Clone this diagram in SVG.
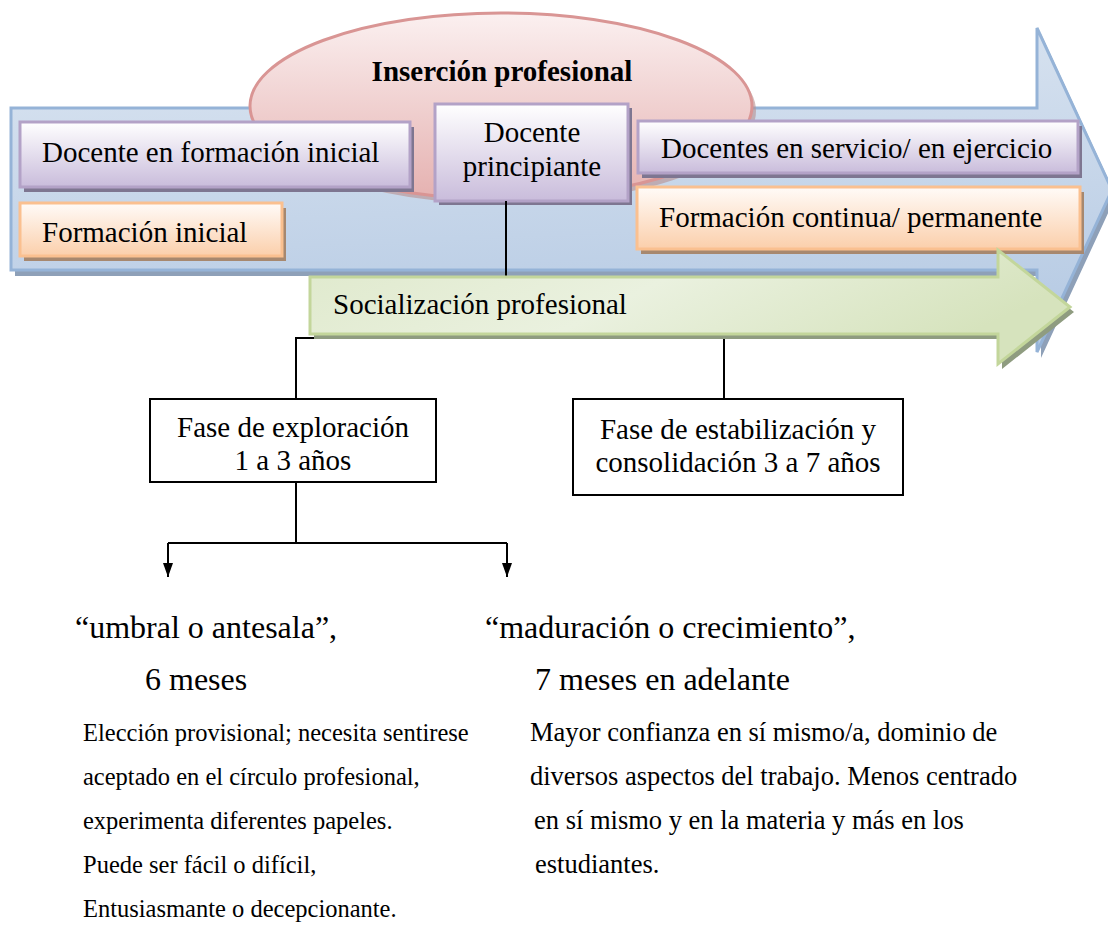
<svg xmlns="http://www.w3.org/2000/svg" width="1108" height="929" viewBox="0 0 1108 929">
<defs>
  <linearGradient id="gBlue" x1="0" y1="0" x2="0.15" y2="1">
    <stop offset="0" stop-color="#dbe5f1"/>
    <stop offset="1" stop-color="#b7cbe4"/>
  </linearGradient>
  <linearGradient id="gPurple" x1="0" y1="0" x2="0" y2="1">
    <stop offset="0" stop-color="#ffffff"/>
    <stop offset="1" stop-color="#c9bcdb"/>
  </linearGradient>
  <linearGradient id="gOrange" x1="0" y1="0" x2="0" y2="1">
    <stop offset="0" stop-color="#fffbf8"/>
    <stop offset="1" stop-color="#fbcfab"/>
  </linearGradient>
  <linearGradient id="gPink" x1="0" y1="0" x2="0" y2="1">
    <stop offset="0" stop-color="#fbf0f0"/>
    <stop offset="1" stop-color="#e5b1b0"/>
  </linearGradient>
  <linearGradient id="gGreen" x1="0" y1="0" x2="1" y2="0.3">
    <stop offset="0" stop-color="#dfe9cc"/>
    <stop offset="0.5" stop-color="#eaf1df"/>
    <stop offset="1" stop-color="#d6e3bd"/>
  </linearGradient>
  <marker id="arr" viewBox="0 0 14 10" refX="14" refY="5" markerWidth="14" markerHeight="10" markerUnits="userSpaceOnUse" orient="auto">
    <path d="M0,0 L14,5 L0,10 Z" fill="#000"/>
  </marker>
</defs>
<style>
  .t{font-family:"Liberation Serif","Times New Roman",serif;fill:#000;font-size:29px}
  .c{text-anchor:middle}
  .b{font-weight:bold}
  .q{font-size:32px}
  .p{font-size:24.5px}
  .r{font-size:26.5px}
  .pur{fill:url(#gPurple);stroke:#b3a2c7;stroke-width:3}
  .pursh{fill:#7e7691}
  .ora{fill:url(#gOrange);stroke:#fac090;stroke-width:3}
  .orash{fill:#a7886f}
  .box{fill:#fff;stroke:#000;stroke-width:2}
  .ln{fill:none;stroke:#000;stroke-width:2}
</style>

<g id="blue-arrow">
  <path d="M15,114 H1041 V34 L1116,196 L1041,358 V276 H15 Z" fill="#8ea0b8"/>
  <path d="M11,108 H1037 V28 L1112,190 L1037,352 V270 H11 Z" fill="url(#gBlue)" stroke="#95b3d7" stroke-width="3"/>
</g>

<g id="insercion">
  <ellipse cx="505" cy="111" rx="251" ry="93" fill="#b88f8f" opacity="0.6"/>
  <ellipse cx="501" cy="106" rx="251" ry="93" fill="url(#gPink)" stroke="#d99594" stroke-width="3"/>
  <text class="t b c" x="502" y="81">Inserción profesional</text>
</g>

<g id="docente-formacion">
  <rect class="pursh" x="24" y="127" width="390" height="65"/>
  <rect class="pur" x="20" y="122" width="390" height="65"/>
  <text class="t" x="42" y="162">Docente en formación inicial</text>
</g>

<g id="formacion-inicial">
  <rect class="orash" x="24" y="208" width="262" height="53"/>
  <rect class="ora" x="20" y="203" width="262" height="53"/>
  <text class="t" x="42" y="242">Formación inicial</text>
</g>

<g id="docente-principiante">
  <rect class="pursh" x="439" y="108" width="193" height="97"/>
  <rect class="pur" x="435" y="104" width="193" height="97"/>
  <text class="t c" x="532" y="142">Docente</text>
  <text class="t c" x="532" y="176">principiante</text>
</g>

<g id="docentes-servicio">
  <rect class="pursh" x="642" y="126" width="440" height="52"/>
  <rect class="pur" x="638" y="121" width="440" height="52"/>
  <text class="t" x="661" y="158">Docentes en servicio/ en ejercicio</text>
</g>

<g id="formacion-continua">
  <rect class="orash" x="641" y="192" width="443" height="62"/>
  <rect class="ora" x="637" y="187" width="443" height="62"/>
  <text class="t" x="659" y="227">Formación continua/ permanente</text>
</g>

<g id="connectors">
  <path class="ln" d="M506,201 V338"/>
  <path class="ln" d="M296,399 V338 H724 V399"/>
  <path class="ln" d="M296,482 V543"/>
  <path class="ln" d="M168,543 H507"/>
  <path class="ln" d="M168,543 V577" marker-end="url(#arr)"/>
  <path class="ln" d="M507,543 V577" marker-end="url(#arr)"/>
</g>

<g id="socializacion">
  <path d="M314,282 H1002 V255 L1074,312 L1002,369 V339 H314 Z" fill="#8f9c80"/>
  <path d="M310,277 H998 V250 L1070,307 L998,364 V334 H310 Z" fill="url(#gGreen)" stroke="#c3d69b" stroke-width="3"/>
  <text class="t" x="333" y="314">Socialización profesional</text>
</g>

<g id="fase-exploracion">
  <rect class="box" x="150" y="399" width="286" height="83"/>
  <text class="t c" x="293" y="437">Fase de exploración</text>
  <text class="t c" x="293" y="470">1 a 3 años</text>
</g>

<g id="fase-estabilizacion">
  <rect class="box" x="573" y="399" width="330" height="96"/>
  <text class="t c" x="738" y="439">Fase de estabilización y</text>
  <text class="t c" x="738" y="472">consolidación 3 a 7 años</text>
</g>

<g id="umbral">
  <text class="t q" x="75" y="638">“umbral o antesala”,</text>
  <text class="t q" x="145" y="690">6 meses</text>
  <text class="t p" x="83" y="741">Elección provisional; necesita sentirese</text>
  <text class="t p" x="83" y="785">aceptado en el círculo profesional,</text>
  <text class="t p" x="83" y="829">experimenta diferentes papeles.</text>
  <text class="t p" x="83" y="873">Puede ser fácil o difícil,</text>
  <text class="t p" x="83" y="917">Entusiasmante o decepcionante.</text>
</g>

<g id="maduracion">
  <text class="t q" x="485" y="638">“maduración o crecimiento”,</text>
  <text class="t q" x="535" y="690">7 meses en adelante</text>
  <text class="t r" x="530" y="741">Mayor confianza en sí mismo/a, dominio de</text>
  <text class="t r" x="530" y="785">diversos aspectos del trabajo. Menos centrado</text>
  <text class="t r" x="534" y="829">en sí mismo y en la materia y más en los</text>
  <text class="t r" x="535" y="873">estudiantes.</text>
</g>
</svg>
